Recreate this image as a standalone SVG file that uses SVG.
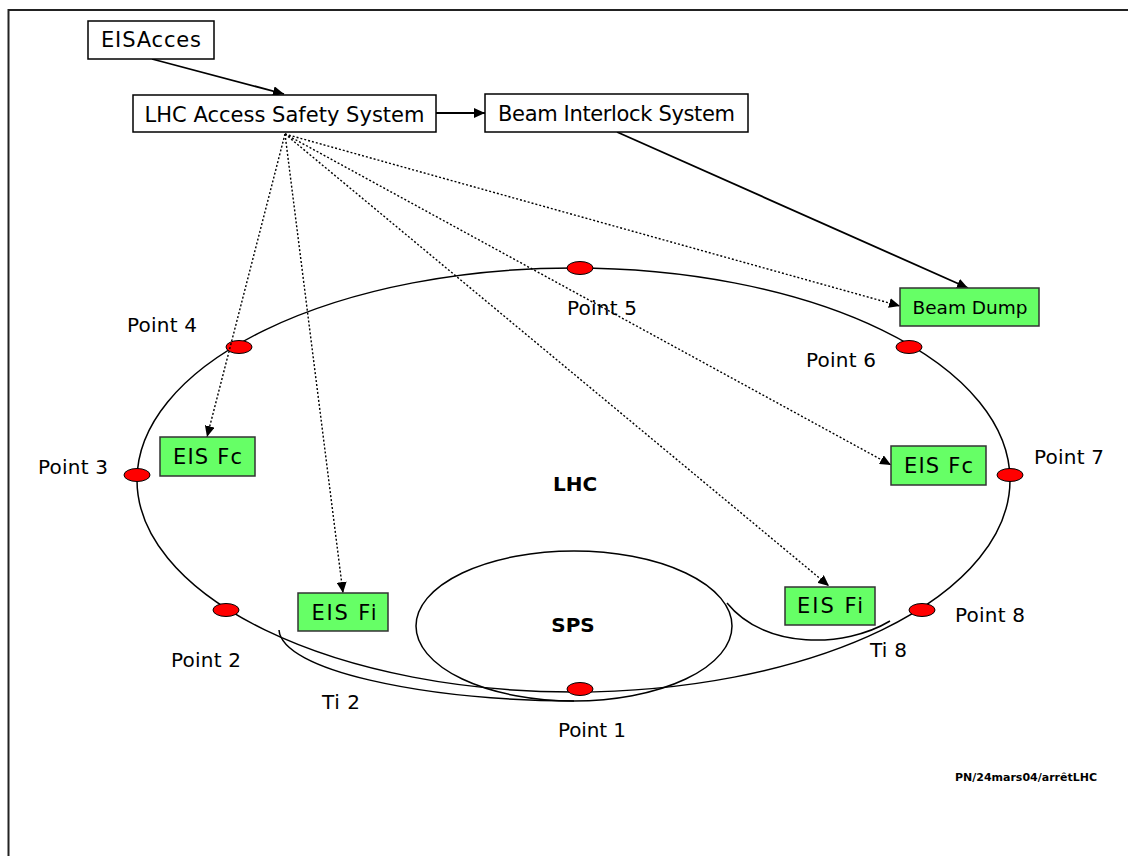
<svg xmlns="http://www.w3.org/2000/svg" width="1128" height="856" viewBox="0 0 1128 856">
<defs>
<marker id="arr" markerUnits="userSpaceOnUse" markerWidth="12" markerHeight="10" refX="11" refY="5" orient="auto">
<path d="M0,0 L11,5 L0,10 z" fill="#000"/>
</marker>
<style>
text{font-family:"DejaVu Sans","Liberation Sans",sans-serif;fill:#000}
.bl{font-size:21px;text-anchor:middle}
.pl{font-size:20px}
.bd{font-size:20px;font-weight:bold;text-anchor:middle}
.wb{fill:#fff;stroke:#000;stroke-width:1.5}
.gb{fill:#66ff66;stroke:#333;stroke-width:1.5}
.pt{fill:#ff0000;stroke:#000;stroke-width:1}
.ring{fill:none;stroke:#000;stroke-width:1.5}
.solid{fill:none;stroke:#000;stroke-width:1.8;marker-end:url(#arr)}
.dot{fill:none;stroke:#000;stroke-width:1.4;stroke-dasharray:2,2;marker-end:url(#arr)}
</style>
</defs>
<rect width="1128" height="856" fill="#fff"/>
<path d="M1130,10 H8.5 V860" fill="none" stroke="#222" stroke-width="2"/>

<g id="rings">
<ellipse class="ring" cx="573.5" cy="480" rx="436.5" ry="212"/>
<ellipse class="ring" cx="574" cy="626" rx="158" ry="75"/>
<path class="ring" d="M279,630 C282,670 420,700 574,701"/>
<path class="ring" d="M727,603 C765,650 845,648 890,621"/>
</g>

<g id="points">
<ellipse class="pt" cx="580" cy="268" rx="13" ry="6.5"/>
<ellipse class="pt" cx="239" cy="347" rx="13" ry="6.5"/>
<ellipse class="pt" cx="909" cy="347" rx="13" ry="6.5"/>
<ellipse class="pt" cx="137" cy="475" rx="13" ry="6.5"/>
<ellipse class="pt" cx="1010" cy="475" rx="13" ry="6.5"/>
<ellipse class="pt" cx="226" cy="610" rx="13" ry="6.5"/>
<ellipse class="pt" cx="922" cy="610" rx="13" ry="6.5"/>
<ellipse class="pt" cx="580" cy="689" rx="13" ry="6.5"/>
</g>

<g id="connectors">
<path class="solid" d="M152,59 L284,94"/>
<path class="solid" d="M436,113 L485,113"/>
<path class="solid" d="M617,132 L968,288"/>
<path class="dot" d="M285,134 L207,437"/>
<path class="dot" d="M285,134 L343,593"/>
<path class="dot" d="M285,134 L829,586"/>
<path class="dot" d="M285,134 L891,465"/>
<path class="dot" d="M285,134 L900,306"/>
</g>

<g id="eisacces"><rect class="wb" x="88" y="21" width="126" height="38"/><text class="bl" x="151" y="47" textLength="100">EISAcces</text></g>
<g id="lass"><rect class="wb" x="133" y="95" width="303" height="37"/><text class="bl" x="284.5" y="122" textLength="280">LHC Access Safety System</text></g>
<g id="bis"><rect class="wb" x="485" y="94" width="263" height="38"/><text class="bl" x="616.5" y="121" textLength="237">Beam Interlock System</text></g>
<g id="beamdump"><rect class="gb" x="900" y="288" width="139" height="38"/><text class="bl" x="970" y="314" style="font-size:18.5px">Beam Dump</text></g>
<g id="eisfc-left"><rect class="gb" x="160" y="437" width="95" height="39"/><text class="bl" x="207.5" y="464" textLength="69">EIS Fc</text></g>
<g id="eisfc-right"><rect class="gb" x="891" y="446" width="95" height="39"/><text class="bl" x="938.5" y="473" textLength="69">EIS Fc</text></g>
<g id="eisfi-left"><rect class="gb" x="298" y="593" width="90" height="38"/><text class="bl" x="344" y="620" textLength="65">EIS Fi</text></g>
<g id="eisfi-right"><rect class="gb" x="785" y="587" width="90" height="38"/><text class="bl" x="830" y="613" textLength="66">EIS Fi</text></g>

<g id="labels">
<text class="pl" x="567" y="315" textLength="70">Point 5</text>
<text class="pl" x="127" y="332" textLength="70">Point 4</text>
<text class="pl" x="806" y="367" textLength="70">Point 6</text>
<text class="pl" x="38" y="474" textLength="70">Point 3</text>
<text class="pl" x="1034" y="464" textLength="70">Point 7</text>
<text class="pl" x="171" y="667" textLength="70">Point 2</text>
<text class="pl" x="955" y="622" textLength="70">Point 8</text>
<text class="pl" x="558" y="737" textLength="68">Point 1</text>
<text class="pl" x="322" y="709" textLength="38">Ti 2</text>
<text class="pl" x="870" y="657" textLength="37">Ti 8</text>
<text class="bd" x="575" y="491">LHC</text>
<text class="bd" x="573" y="632">SPS</text>
<text x="955" y="781" font-size="11" font-weight="bold" textLength="142">PN/24mars04/arrêtLHC</text>
</g>
</svg>
